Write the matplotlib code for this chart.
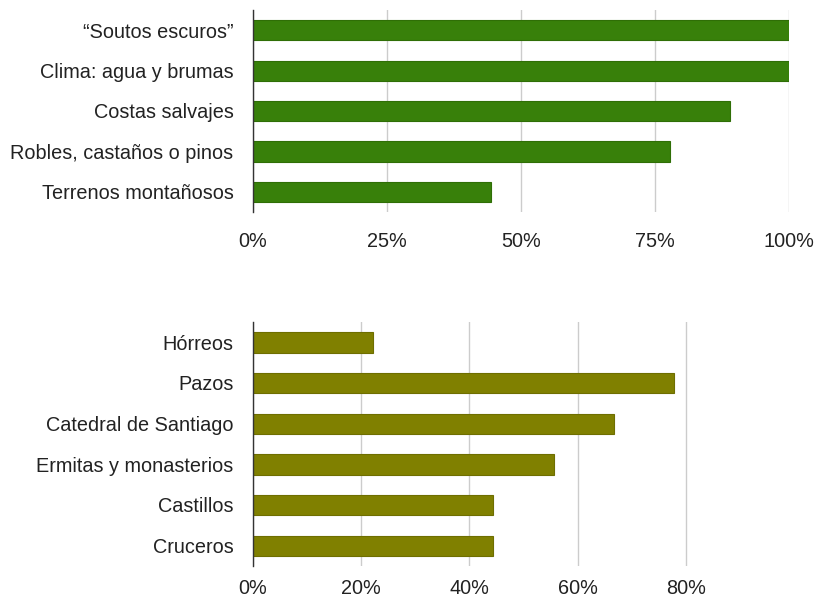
import numpy as np
import matplotlib
matplotlib.use('Agg')
import matplotlib.pyplot as plt
from matplotlib.ticker import FuncFormatter

# top chart: landscape elements
paisaje_labels = ['\u201cSoutos escuros\u201d', 'Clima: agua y brumas', 'Costas salvajes',
                  'Robles, castaños o pinos', 'Terrenos montañosos']
paisaje_values = [1.0, 1.0, 0.889, 0.778, 0.444]
paisaje_ticks = [0, 0.25, 0.5, 0.75, 1.0]

# bottom chart: monuments
monum_labels = ['Hórreos', 'Pazos', 'Catedral de Santiago', 'Ermitas y monasterios',
                'Castillos', 'Cruceros']
monum_values = [0.222, 0.778, 0.667, 0.556, 0.444, 0.444]
monum_ticks = [0, 0.2, 0.4, 0.6, 0.8]

plt.rcParams['font.family'] = ['Liberation Sans', 'DejaVu Sans']

W, H = 817, 599
fig = plt.figure(figsize=(W / 100, H / 100), dpi=100)

def px_axes(left, top, right, bottom):
    return fig.add_axes([left / W, 1 - bottom / H, (right - left) / W, (bottom - top) / H])

def draw(ax, labels, values, ticks, color, edge, xpad):
    y = np.arange(len(labels))
    ax.barh(y, values, height=0.5, color=color, edgecolor=edge, linewidth=0.8, zorder=3)
    ax.set_ylim(len(labels) - 0.5, -0.5)
    ax.set_xlim(0, 1.0)
    ax.set_yticks(y)
    ax.set_yticklabels(labels)
    ax.set_xticks(ticks)
    ax.xaxis.set_major_formatter(FuncFormatter(lambda v, p: '%d%%' % round(v * 100)))
    ax.grid(axis='x', color='#cccccc', linewidth=1, zorder=0)
    for s in ['top', 'right', 'bottom']:
        ax.spines[s].set_visible(False)
    ax.spines['left'].set_color('#333333')
    ax.spines['left'].set_linewidth(1)
    ax.spines['left'].set_zorder(4)
    ax.tick_params(axis='y', length=0, pad=14, labelsize=14.3, labelcolor='#222222')
    ax.tick_params(axis='x', length=0, pad=xpad, labelsize=14.3, labelcolor='#222222')

ax1 = px_axes(253, 10, 789, 212)
draw(ax1, paisaje_labels, paisaje_values, paisaje_ticks, '#38800a', '#2f6e06', 14.5)

ax2 = px_axes(253, 322, 794, 566)
draw(ax2, monum_labels, monum_values, monum_ticks, '#808000', '#6e6e00', 9)

fig.savefig('out.png', dpi=100, facecolor='white')
